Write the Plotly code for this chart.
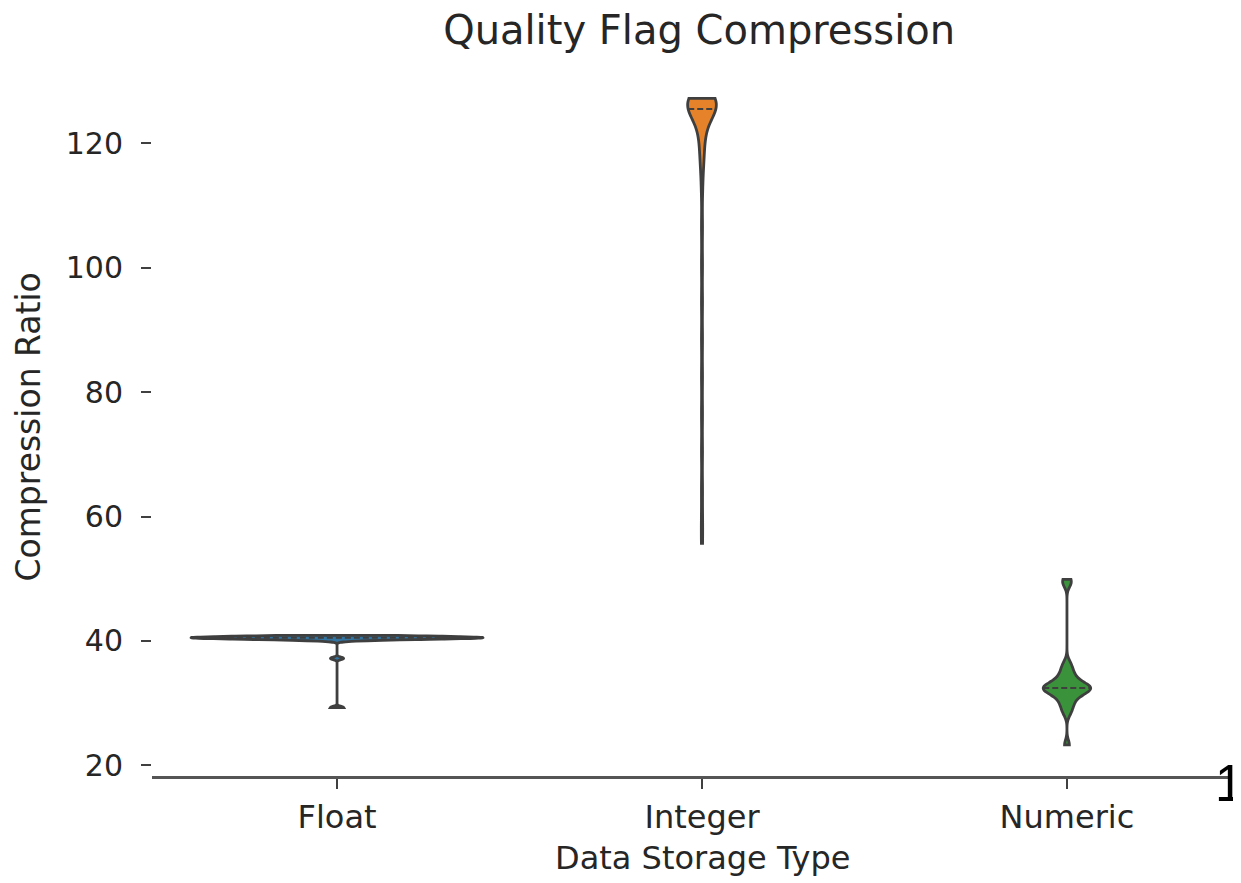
import numpy as np
import plotly.graph_objects as go

# ---- data ----
categories = ["Float", "Integer", "Numeric"]

float_values = [40.1, 40.2, 40.25, 40.3, 40.3, 40.35, 40.4, 40.4, 40.4, 40.45, 40.45,
                40.5, 40.5, 40.5, 40.5, 40.5, 40.55, 40.55, 40.55, 40.6, 40.6, 40.6,
                40.65, 40.65, 40.7, 40.7, 40.75, 40.8, 40.8, 40.85, 40.9, 37.2, 29.3]

integer_values = [127.2, 127.2, 127.15, 127.1, 127.1, 127.0, 127.0, 126.9, 126.9, 126.8,
                  126.8, 126.7, 126.6, 126.6, 126.5, 126.45, 126.4, 126.3, 126.3, 126.2,
                  126.1, 126.0, 125.9, 125.8, 125.7,
                  125.5, 125.3, 125.0, 124.7, 124.3, 123.9, 123.4, 122.8, 122.1, 121.3,
                  120.4, 119.4, 118.3, 117.1, 115.8,
                  112.5, 106.5, 100.5, 94.5, 88.5, 82.5, 76.5, 70.5, 64.5, 59.5, 55.7]

numeric_values = [23.3, 28.4, 29.3, 30.0, 30.6, 31.1, 31.5, 31.8, 32.0, 32.2, 32.3, 32.4,
                  32.5, 32.6, 32.8, 33.0, 33.3, 33.7, 34.2, 34.8, 35.5, 36.4, 49.2, 49.9]

y_tick_values = [20, 40, 60, 80, 100, 120]

# ---- styles ----
fill_colors = ["#3274a1", "#e6832a", "#3a923a"]
bandwidths = [0.2, 2.2, 0.8]
violin_widths = [0.80, 0.078, 0.13]
EDGE = "#3f3f3f"
TEXT = "#262626"
FONT = "DejaVu Sans"

series = [float_values, integer_values, numeric_values]

# the page body has an 8px margin, so the figure is 8px smaller than the window
FIG_W, FIG_H = 1233, 875


def kde_ratio(vals, bw, at):
    v = np.asarray(vals, dtype=float)
    grid = np.linspace(v.min(), v.max(), 600)
    dens = np.exp(-0.5 * ((grid[:, None] - v[None, :]) / bw) ** 2).sum(axis=1)
    d_at = np.exp(-0.5 * ((at - v) / bw) ** 2).sum()
    return d_at / dens.max()


fig = go.Figure()
for i, (cat, vals, col, bw, w) in enumerate(zip(categories, series, fill_colors,
                                                  bandwidths, violin_widths)):
    fig.add_trace(go.Violin(
        x=[i] * len(vals), y=vals, name=cat,
        fillcolor=col, line=dict(color=EDGE, width=2.8),
        bandwidth=bw, spanmode="hard", scalemode="width", width=w,
        points=False, box_visible=False, meanline_visible=False,
        showlegend=False, hoverinfo="y", opacity=1,
    ))
    med = float(np.median(vals))
    hw = w / 2 * kde_ratio(vals, bw, med)
    fig.add_trace(go.Scatter(
        x=[i - hw, i + hw], y=[med, med], mode="lines",
        line=dict(color=EDGE, width=2, dash="6px,3px"),
        showlegend=False, hoverinfo="skip",
    ))

fig.update_layout(
    width=FIG_W, height=FIG_H,
    margin=dict(l=144, r=12, t=58, b=107),
    paper_bgcolor="white", plot_bgcolor="white",
    font=dict(family=FONT, color=TEXT, size=29),
    violinmode="overlay",
    title=dict(text="Quality Flag Compression", x=0.508, xref="paper", xanchor="center",
               y=1 - 22 / FIG_H, yref="container", yanchor="middle",
               font=dict(size=40, color=TEXT, family=FONT)),
    xaxis=dict(
        range=[-0.507, 2.444], tickmode="array", tickvals=[0, 1, 2], ticktext=categories,
        showline=True, linecolor="#555555", linewidth=2.5, mirror=False,
        ticks="outside", ticklen=10, tickwidth=2, tickcolor="#404040",
        ticklabelstandoff=1,
        showgrid=False, zeroline=False, tickfont=dict(size=32),
    ),
    yaxis=dict(
        range=[18.3, 132.4], tickmode="array", tickvals=y_tick_values,
        showline=False, ticks="outside", ticklen=10, tickwidth=2, tickcolor="#404040",
        ticklabelstandoff=12,
        showgrid=False, zeroline=False, tickfont=dict(size=30),
    ),
    annotations=[
        dict(text="Compression Ratio", x=-0.1142, xref="paper", y=0.4908, yref="paper",
             xanchor="center", yanchor="middle", textangle=-90, showarrow=False,
             font=dict(size=33, color=TEXT, family=FONT)),
        dict(text="Data Storage Type", x=1, xref="x", y=-0.115, yref="paper",
             xanchor="center", yanchor="middle", showarrow=False,
             font=dict(size=32, color=TEXT, family=FONT)),
        dict(text="1", x=1.0, xref="paper", xshift=-16, y=-0.01, yref="paper",
             xanchor="left", yanchor="middle", showarrow=False,
             font=dict(size=51, color="black", family="Liberation Sans")),
    ],
)

fig.write_html("out.html")
